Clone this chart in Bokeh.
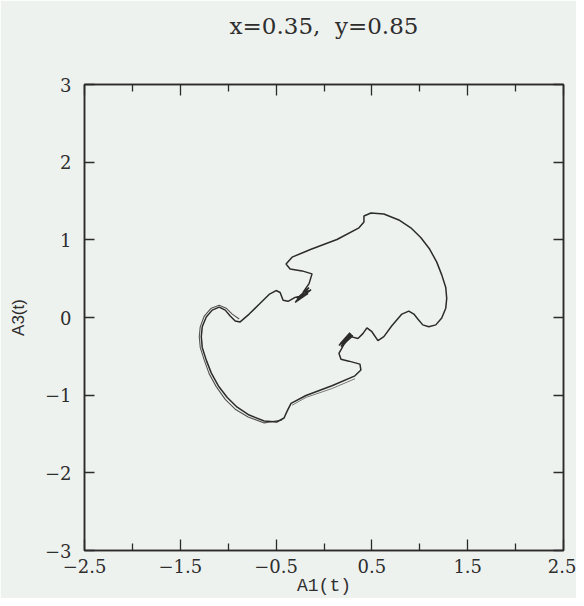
from bokeh.plotting import figure
from bokeh.models import LinearAxis, FixedTicker, Range1d, Title
from bokeh.embed import file_html
from bokeh.resources import INLINE

# ---- data (phase portrait A1(t) vs A3(t)) ----
# main circuit of the trajectory
a1 = [-0.260, -0.156, -0.281, -0.135, -0.302, -0.167, -0.292, -0.146, -0.219,
      -0.156, -0.125, -0.229, -0.354, -0.396, -0.333, -0.135, 0.135, 0.365, 0.417, 0.417, 0.490,
      0.625, 0.781, 0.906, 1.010, 1.104, 1.177, 1.229, 1.271, 1.281, 1.271, 1.229, 1.167,
      1.094, 1.031, 0.979, 0.938,
      0.885, 0.813, 0.708, 0.625, 0.563, 0.500, 0.448, 0.406, 0.354, 0.281,
      0.240, 0.156, 0.281, 0.177, 0.302, 0.188, 0.271, 0.167, 0.292, 0.208,
      0.156, 0.177, 0.260, 0.375, 0.385, 0.323, 0.083, -0.188, -0.344, -0.385, -0.417, -0.490,
      -0.625, -0.781, -0.906, -1.010, -1.104, -1.177, -1.229, -1.271, -1.281, -1.271, -1.229,
      -1.167, -1.094, -1.031, -0.979, -0.927,
      -0.875, -0.781, -0.677, -0.573, -0.500, -0.458, -0.427, -0.375, -0.302, -0.260]
a3 = [0.271, 0.385, 0.234, 0.360, 0.196, 0.309, 0.215, 0.347, 0.322,
      0.436, 0.562, 0.600, 0.625, 0.688, 0.777, 0.878, 1.004, 1.155, 1.231, 1.307, 1.345,
      1.332, 1.256, 1.155, 1.029, 0.878, 0.713, 0.549, 0.385, 0.246, 0.120, -0.006, -0.095,
      -0.120, -0.095, -0.019, 0.044,
      0.082, 0.044, -0.107, -0.246, -0.297, -0.183, -0.133, -0.208, -0.271, -0.246,
      -0.271, -0.360, -0.208, -0.372, -0.233, -0.322, -0.196, -0.341, -0.222, -0.347,
      -0.461, -0.537, -0.562, -0.600, -0.675, -0.751, -0.878, -1.004, -1.105, -1.206, -1.294, -1.345,
      -1.332, -1.256, -1.155, -1.029, -0.878, -0.713, -0.549, -0.385, -0.246, -0.120, 0.006,
      0.095, 0.133, 0.095, 0.019, -0.044,
      -0.057, 0.044, 0.170, 0.297, 0.347, 0.322, 0.221, 0.208, 0.259, 0.271]

# a second, slightly displaced circuit visible along the left arc
a1_pass2 = [-0.438, -0.625, -0.792, -0.927, -1.031, -1.125, -1.198, -1.250, -1.292,
            -1.302, -1.292, -1.250, -1.177, -1.094, -1.021, -0.958, -0.885]
a3_pass2 = [-1.319, -1.357, -1.282, -1.181, -1.054, -0.890, -0.726, -0.549, -0.385,
            -0.246, -0.120, 0.019, 0.120, 0.158, 0.120, 0.044, -0.019]
# and along the lower diagonal
a1_pass3 = [0.323, 0.083, -0.188, -0.333]
a3_pass3 = [-0.789, -0.915, -1.029, -1.130]

x_major = [-2.5, -1.5, -0.5, 0.5, 1.5, 2.5]
x_labels = ["\u22122.5", "\u22121.5", "\u22120.5", "0.5", "1.5", "2.5"]
x_minor = [-2, -1, 0, 1, 2]
y_major = [-3, -2, -1, 0, 1, 2, 3]
y_labels = ["\u22123", "\u22122", "\u22121", "0", "1", "2", "3"]

title_text = "x=0.35,\u00a0 y=0.85"
BG = "#eef2ee"
INK = "#2b2b2b"
TXT = "#2e2e2e"

p = figure(width=576, height=598, output_backend="svg", toolbar_location=None,
           x_range=Range1d(-2.5, 2.5), y_range=Range1d(-3, 3),
           x_axis_label="A1(t)", y_axis_label="A3(t)")
p.min_border_left = 84
p.min_border_right = 13
p.min_border_top = 84
p.min_border_bottom = 43
p.background_fill_color = BG
p.border_fill_color = BG
p.outline_line_color = INK
p.outline_line_width = 1.5
p.grid.visible = False

p.title = Title(text=title_text, align="center",
                text_font="DejaVu Serif", text_font_size="23px",
                text_font_style="normal", text_color=TXT, standoff=0)

xt = FixedTicker(ticks=x_major, minor_ticks=x_minor)
yt = FixedTicker(ticks=y_major, minor_ticks=[])


def style_x(ax, show):
    ax.ticker = xt
    ax.major_tick_in = 11
    ax.major_tick_out = 0
    ax.minor_tick_in = 7
    ax.minor_tick_out = 0
    ax.major_tick_line_color = INK
    ax.minor_tick_line_color = INK
    ax.major_tick_line_width = 1.3
    ax.minor_tick_line_width = 1.3
    ax.axis_line_color = INK
    ax.axis_line_width = 1.5
    if show:
        ax.major_label_overrides = dict(zip(x_major, x_labels))
        ax.major_label_text_font = "DejaVu Serif"
        ax.major_label_text_font_size = "18px"
        ax.major_label_text_color = TXT
        ax.major_label_standoff = 8
        ax.axis_label_text_font = "Liberation Mono"
        ax.axis_label_text_font_size = "18px"
        ax.axis_label_text_font_style = "normal"
        ax.axis_label_text_color = TXT
        ax.axis_label_standoff = 0
    else:
        ax.major_label_text_font_size = "0px"


def style_y(ax, show):
    ax.ticker = yt
    ax.major_tick_in = 10
    ax.major_tick_out = 0
    ax.minor_tick_in = 0
    ax.minor_tick_out = 0
    ax.major_tick_line_color = INK
    ax.major_tick_line_width = 1.3
    ax.axis_line_color = INK
    ax.axis_line_width = 1.5
    if show:
        ax.major_label_overrides = dict(zip(y_major, y_labels))
        ax.major_label_text_font = "DejaVu Serif"
        ax.major_label_text_font_size = "18px"
        ax.major_label_text_color = TXT
        ax.major_label_standoff = 13
        ax.axis_label_text_font = "Liberation Sans"
        ax.axis_label_text_font_size = "17px"
        ax.axis_label_text_font_style = "normal"
        ax.axis_label_text_color = TXT
        ax.axis_label_standoff = 14
    else:
        ax.major_label_text_font_size = "0px"


style_x(p.xaxis[0], True)
style_y(p.yaxis[0], True)
top = LinearAxis()
style_x(top, False)
p.add_layout(top, "above")
# empty spacer between the top axis and the title
p.add_layout(Title(text="\u00a0", text_font_size="40px", standoff=0,
                   text_color=BG), "above")
right = LinearAxis()
style_y(right, False)
p.add_layout(right, "right")

p.line(a1, a3, line_color=INK, line_width=1.5)
p.line(a1_pass2, a3_pass2, line_color=INK, line_width=1.1, line_alpha=0.8)
p.line(a1_pass3, a3_pass3, line_color=INK, line_width=1.0, line_alpha=0.6)

open("out.html", "w").write(file_html(p, INLINE))
